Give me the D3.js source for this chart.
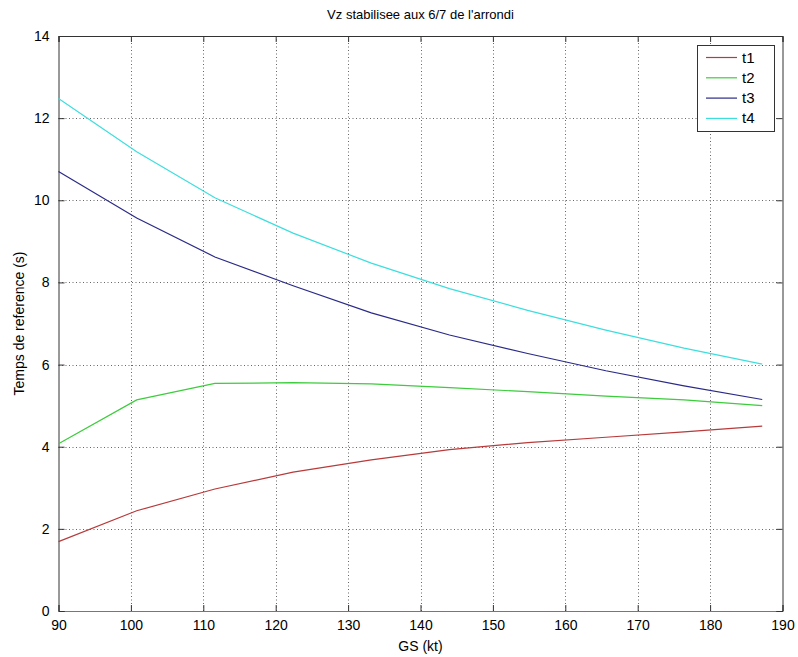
<!DOCTYPE html>
<html><head><meta charset="utf-8">
<script src="https://cdn.jsdelivr.net/npm/d3@7"></script>
<style>
body{margin:0;background:#fff;}
text{font-family:"Liberation Sans",Arial,sans-serif;}
</style></head>
<body>
<svg id="chart" width="798" height="657"></svg>
<script>
const gs = [90, 100.8, 111.6, 122.4, 133.2, 144, 154.8, 165.6, 176.4, 187.2];
const t1 = [1.69, 2.44, 2.97, 3.38, 3.68, 3.93, 4.10, 4.23, 4.36, 4.50];
const t2 = [4.07, 5.14, 5.54, 5.56, 5.53, 5.44, 5.34, 5.23, 5.14, 5.00];
const t3 = [10.70, 9.57, 8.62, 7.92, 7.26, 6.72, 6.27, 5.85, 5.48, 5.15];
const t4 = [12.48, 11.18, 10.06, 9.20, 8.47, 7.85, 7.32, 6.84, 6.40, 6.01];
const seriesNames = ["t1", "t2", "t3", "t4"];
const seriesColors = ["#b83a3a", "#3ccc3c", "#2a2a88", "#3ddede"];
const xTicks = [90,100,110,120,130,140,150,160,170,180,190];
const yTicks = [0,2,4,6,8,10,12,14];
const title = "Vz stabilisee aux 6/7 de l'arrondi";
const xLabel = "GS (kt)";
const yLabel = "Temps de reference (s)";

const FF = "'Liberation Sans',Arial,sans-serif";
const series = [t1, t2, t3, t4];
const svg = d3.select("#chart");
const L = 58.5, R = 782.5, T = 36, B = 611;
const x = d3.scaleLinear().domain([90,190]).range([L,R]);
const y = d3.scaleLinear().domain([0,14]).range([B,T]);

// grid
const grid = svg.append("g").attr("stroke","#666").attr("stroke-width",1).attr("stroke-dasharray","1,2.5");
grid.selectAll(".vx").data(xTicks.slice(1,-1)).enter().append("line")
  .attr("x1",d=>Math.round(x(d))+0.5).attr("x2",d=>Math.round(x(d))+0.5).attr("y1",T).attr("y2",B);
grid.selectAll(".hy").data(yTicks.slice(1,-1)).enter().append("line")
  .attr("y1",d=>Math.round(y(d))+0.5).attr("y2",d=>Math.round(y(d))+0.5).attr("x1",L).attr("x2",R);

// axes (ticks inward)
const gx = svg.append("g").attr("transform",`translate(0,${B})`)
  .call(d3.axisBottom(x).tickValues(xTicks).tickSize(-6).tickPadding(9).tickFormat(d3.format("d")));
const gxt = svg.append("g").attr("transform",`translate(0,${T})`)
  .call(d3.axisTop(x).tickValues(xTicks).tickSize(-6).tickFormat(""));
const gy = svg.append("g").attr("transform",`translate(${L},0)`)
  .call(d3.axisLeft(y).tickValues(yTicks).tickSize(-6).tickPadding(9).tickFormat(d3.format("d")));
const gyr = svg.append("g").attr("transform",`translate(${R},0)`)
  .call(d3.axisRight(y).tickValues(yTicks).tickSize(-6).tickFormat(""));
[gx,gxt,gy,gyr].forEach(g=>{
  g.selectAll("path").attr("stroke","#333");
  g.selectAll("line").attr("stroke","#333");
  g.selectAll("text").attr("font-size","14px").attr("fill","#000").attr("font-family",FF);
});
gx.select("path").attr("stroke","#777");

// lines
const line = d3.line().x((d,i)=>x(gs[i])).y(d=>y(d));
series.forEach((s,k)=>{
  svg.append("path").datum(s).attr("d",line).attr("fill","none")
    .attr("stroke",seriesColors[k]).attr("stroke-width",1.2);
});

// title & labels
svg.append("text").attr("x",(L+R)/2).attr("y",19).attr("text-anchor","middle")
  .attr("font-size","13px").text(title);
svg.append("text").attr("x",(L+R)/2).attr("y",651).attr("text-anchor","middle")
  .attr("font-size","14px").text(xLabel);
svg.append("text").attr("transform",`translate(24,${(T+B)/2}) rotate(-90)`).attr("text-anchor","middle")
  .attr("font-size","14px").text(yLabel);

// legend
const lg = svg.append("g");
lg.append("rect").attr("x",697.5).attr("y",45.5).attr("width",77).attr("height",86)
  .attr("fill","#fff").attr("stroke","#333");
seriesNames.forEach((n,k)=>{
  const yy = 57.5 + k*20.3;
  lg.append("line").attr("x1",706).attr("x2",737).attr("y1",yy).attr("y2",yy)
    .attr("stroke",seriesColors[k]).attr("stroke-width",1.2);
  lg.append("text").attr("x",742).attr("y",yy+5).attr("font-size","15px").text(n);
});
</script>
</body></html>
